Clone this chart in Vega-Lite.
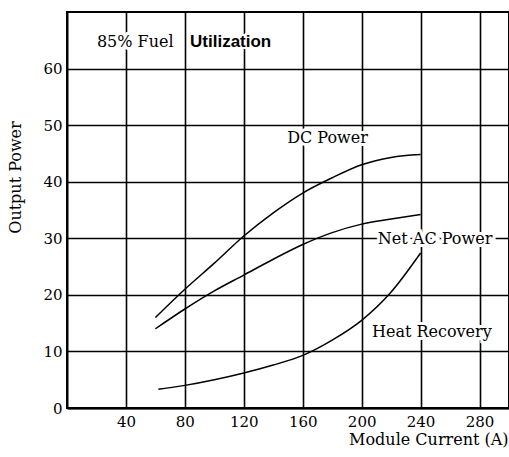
{
  "$schema": "https://vega.github.io/schema/vega-lite/v6.json",
  "width": 442,
  "height": 396,
  "autosize": "none",
  "padding": {"left": 67, "top": 12, "right": 0, "bottom": 49},
  "background": "white",
  "config": {
    "view": {"stroke": "black", "strokeWidth": 2},
    "axis": {
      "domainColor": "black", "domainWidth": 2,
      "gridColor": "black", "gridWidth": 1.6, "gridOpacity": 1,
      "ticks": false,
      "labelFont": "DejaVu Serif", "labelFontSize": 15, "labelColor": "black",
      "titleFont": "DejaVu Serif", "titleFontSize": 16, "titleFontWeight": "normal", "titleColor": "black"
    }
  },
  "datasets": {
    "curves": [
      {"series": "DC Power", "current": 60, "power": 16},
      {"series": "DC Power", "current": 80, "power": 21},
      {"series": "DC Power", "current": 100, "power": 25.6},
      {"series": "DC Power", "current": 120, "power": 30.4},
      {"series": "DC Power", "current": 140, "power": 34.5},
      {"series": "DC Power", "current": 160, "power": 38},
      {"series": "DC Power", "current": 180, "power": 40.7},
      {"series": "DC Power", "current": 200, "power": 43},
      {"series": "DC Power", "current": 220, "power": 44.3},
      {"series": "DC Power", "current": 240, "power": 44.8},
      {"series": "Net AC Power", "current": 60, "power": 14},
      {"series": "Net AC Power", "current": 80, "power": 17.5},
      {"series": "Net AC Power", "current": 100, "power": 20.7},
      {"series": "Net AC Power", "current": 120, "power": 23.5},
      {"series": "Net AC Power", "current": 140, "power": 26.3},
      {"series": "Net AC Power", "current": 160, "power": 28.9},
      {"series": "Net AC Power", "current": 180, "power": 31},
      {"series": "Net AC Power", "current": 200, "power": 32.5},
      {"series": "Net AC Power", "current": 220, "power": 33.4},
      {"series": "Net AC Power", "current": 240, "power": 34.2},
      {"series": "Heat Recovery", "current": 62, "power": 3.3},
      {"series": "Heat Recovery", "current": 80, "power": 4},
      {"series": "Heat Recovery", "current": 100, "power": 5},
      {"series": "Heat Recovery", "current": 120, "power": 6.2},
      {"series": "Heat Recovery", "current": 140, "power": 7.6},
      {"series": "Heat Recovery", "current": 160, "power": 9.3},
      {"series": "Heat Recovery", "current": 180, "power": 12},
      {"series": "Heat Recovery", "current": 200, "power": 15.5},
      {"series": "Heat Recovery", "current": 220, "power": 20.5},
      {"series": "Heat Recovery", "current": 240, "power": 27.4}
    ],
    "labels": [
      {"text": "DC Power", "x": 176.8, "y": 47.7, "style": "center"},
      {"text": "Net AC Power", "x": 211, "y": 29.9, "style": "left"},
      {"text": "Heat Recovery", "x": 207, "y": 13.5, "style": "left"},
      {"text": "85% Fuel", "x": 20.3, "y": 64.7, "style": "left"},
      {"text": "Utilization", "x": 83.5, "y": 64.7, "style": "sans"}
    ]
  },
  "layer": [
    {
      "data": {"name": "curves"},
      "mark": {"type": "line", "color": "black", "strokeWidth": 1.5, "interpolate": "monotone"},
      "encoding": {
        "x": {"field": "current", "type": "quantitative",
              "scale": {"domain": [0, 300], "nice": false},
              "axis": {"values": [40, 80, 120, 160, 200, 240, 280], "title": "Module Current (A)",
                       "titleAlign": "right", "titleBaseline": "alphabetic", "titleX": 441, "titleY": 36,
                       "labelPadding": 6}},
        "y": {"field": "power", "type": "quantitative",
              "scale": {"domain": [0, 70], "nice": false},
              "axis": {"values": [0, 10, 20, 30, 40, 50, 60], "title": "Output Power",
                       "titleX": -52, "titleY": 165, "titleBaseline": "middle", "titleAlign": "center",
                       "labelPadding": 5}},
        "detail": {"field": "series"}
      }
    },
    {
      "data": {"name": "labels"},
      "transform": [{"filter": "datum.style === 'left'"}],
      "mark": {"type": "text", "fontSize": 16, "font": "DejaVu Serif", "align": "left", "baseline": "middle", "color": "white", "stroke": "white", "strokeWidth": 6},
      "encoding": {
        "x": {"field": "x", "type": "quantitative"},
        "y": {"field": "y", "type": "quantitative"},
        "text": {"field": "text"}
      }
    },
    {
      "data": {"name": "labels"},
      "transform": [{"filter": "datum.style === 'center'"}],
      "mark": {"type": "text", "fontSize": 16, "font": "DejaVu Serif", "align": "center", "baseline": "middle", "color": "white", "stroke": "white", "strokeWidth": 6},
      "encoding": {
        "x": {"field": "x", "type": "quantitative"},
        "y": {"field": "y", "type": "quantitative"},
        "text": {"field": "text"}
      }
    },
    {
      "data": {"name": "labels"},
      "transform": [{"filter": "datum.style === 'sans'"}],
      "mark": {"type": "text", "fontSize": 17, "font": "Liberation Sans", "fontWeight": "bold", "align": "left", "baseline": "middle", "color": "white", "stroke": "white", "strokeWidth": 4},
      "encoding": {
        "x": {"field": "x", "type": "quantitative"},
        "y": {"field": "y", "type": "quantitative"},
        "text": {"field": "text"}
      }
    },
    {
      "data": {"name": "labels"},
      "transform": [{"filter": "datum.style === 'left'"}],
      "mark": {"type": "text", "fontSize": 16, "font": "DejaVu Serif", "align": "left", "baseline": "middle", "color": "black"},
      "encoding": {
        "x": {"field": "x", "type": "quantitative"},
        "y": {"field": "y", "type": "quantitative"},
        "text": {"field": "text"}
      }
    },
    {
      "data": {"name": "labels"},
      "transform": [{"filter": "datum.style === 'center'"}],
      "mark": {"type": "text", "fontSize": 16, "font": "DejaVu Serif", "align": "center", "baseline": "middle", "color": "black"},
      "encoding": {
        "x": {"field": "x", "type": "quantitative"},
        "y": {"field": "y", "type": "quantitative"},
        "text": {"field": "text"}
      }
    },
    {
      "data": {"name": "labels"},
      "transform": [{"filter": "datum.style === 'sans'"}],
      "mark": {"type": "text", "fontSize": 17, "font": "Liberation Sans", "fontWeight": "bold", "align": "left", "baseline": "middle", "color": "black"},
      "encoding": {
        "x": {"field": "x", "type": "quantitative"},
        "y": {"field": "y", "type": "quantitative"},
        "text": {"field": "text"}
      }
    }
  ]
}
